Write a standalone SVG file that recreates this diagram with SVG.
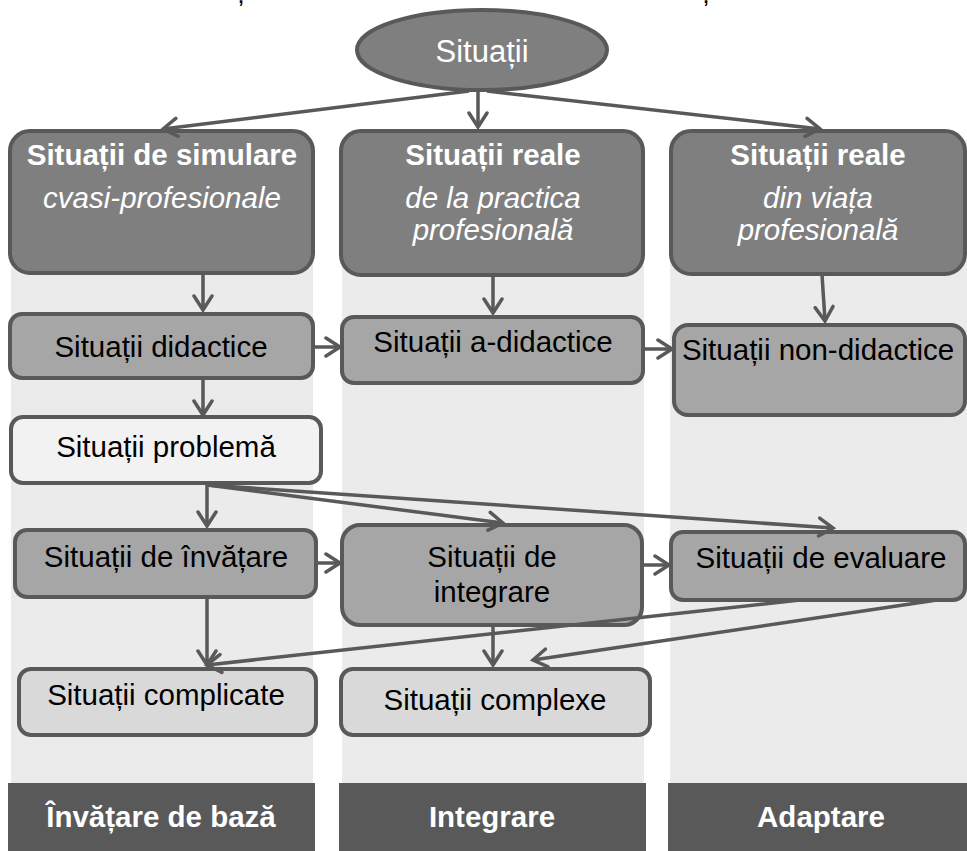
<svg xmlns="http://www.w3.org/2000/svg" width="967" height="851" viewBox="0 0 967 851">
  <defs>
    <style>
      .col { fill: #ebebeb; }
      .bar { fill: #595959; }
      .box { stroke: #595959; stroke-width: 4; }
      .dark { fill: #7f7f7f; }
      .mid { fill: #a6a6a6; }
      .light { fill: #d9d9d9; }
      .pale { fill: #f2f2f2; }
      text { font-family: "Liberation Sans", Arial, sans-serif; text-anchor: middle; }
      .t { font-size: 29.5px; fill: #000; }
      .w { font-size: 29.5px; fill: #fff; }
      .b { font-weight: bold; }
      .i { font-style: italic; }
      .mark { font-size: 18px; font-weight: bold; fill: #000; }
      .conn line { stroke: #595959; stroke-width: 3.5; fill: none; marker-end: url(#arrow); }
    </style>
    <marker id="arrow" markerUnits="userSpaceOnUse" markerWidth="20" markerHeight="24" viewBox="-16 -12 20 24" refX="0" refY="0" orient="auto">
      <path d="M-14,-9 L0,0 L-14,9" fill="none" stroke="#595959" stroke-width="3.5" stroke-linecap="round" stroke-linejoin="miter"/>
    </marker>
  </defs>

  <!-- small marks along the top edge -->
  <text class="mark" x="241" y="2.5">,</text>
  <text class="mark" x="706" y="2.5">,</text>

  <!-- column backgrounds -->
  <g id="columns">
    <rect class="col" x="11" y="140" width="302" height="643"/>
    <rect class="col" x="342" y="140" width="302" height="643"/>
    <rect class="col" x="670" y="140" width="297" height="643"/>
  </g>

  <!-- phase labels -->
  <g id="phase-basic">
    <rect class="bar" x="8" y="783" width="307" height="68"/>
    <text class="w b" x="161" y="827">Învățare de bază</text>
  </g>
  <g id="phase-integration">
    <rect class="bar" x="339" y="783" width="307" height="68"/>
    <text class="w b" x="492" y="827">Integrare</text>
  </g>
  <g id="phase-adaptation">
    <rect class="bar" x="668" y="783" width="299" height="68"/>
    <text class="w b" x="821" y="827">Adaptare</text>
  </g>

  <!-- root -->
  <g id="situatii">
    <ellipse class="box dark" cx="482" cy="50" rx="125" ry="40"/>
    <text class="w" x="482" y="62" style="font-size:31px">Situații</text>
  </g>

  <!-- top level -->
  <g id="simulare">
    <rect class="box dark" x="10" y="131" width="303" height="142" rx="20"/>
    <text class="w b" x="162" y="165">Situații de simulare</text>
    <text class="w i" x="162" y="208">cvasi-profesionale</text>
  </g>
  <g id="reale-practica">
    <rect class="box dark" x="341" y="131" width="302" height="144" rx="20"/>
    <text class="w b" x="493" y="165">Situații reale</text>
    <text class="w i" x="493" y="208">de la practica</text>
    <text class="w i" x="493" y="240">profesională</text>
  </g>
  <g id="reale-viata">
    <rect class="box dark" x="671" y="131" width="294" height="143" rx="20"/>
    <text class="w b" x="818" y="165">Situații reale</text>
    <text class="w i" x="818" y="208">din viața</text>
    <text class="w i" x="818" y="240">profesională</text>
  </g>

  <!-- second level -->
  <g id="didactice">
    <rect class="box mid" x="10" y="314" width="303" height="64" rx="12"/>
    <text class="t" x="161" y="357">Situații didactice</text>
  </g>
  <g id="a-didactice">
    <rect class="box mid" x="342" y="317" width="301" height="66" rx="12"/>
    <text class="t" x="493" y="352">Situații a-didactice</text>
  </g>
  <g id="non-didactice">
    <rect class="box mid" x="674" y="325" width="291" height="90" rx="14"/>
    <text class="t" x="818" y="360">Situații non-didactice</text>
  </g>

  <g id="problema">
    <rect class="box pale" x="11" y="417" width="310" height="66" rx="12"/>
    <text class="t" x="166" y="457">Situații problemă</text>
  </g>

  <g id="invatare">
    <rect class="box mid" x="15" y="530" width="301" height="67" rx="12"/>
    <text class="t" x="166" y="567">Situații de învățare</text>
  </g>
  <g id="integrare">
    <rect class="box mid" x="342" y="525" width="300" height="100" rx="18"/>
    <text class="t" x="492" y="567">Situații de</text>
    <text class="t" x="492" y="602">integrare</text>
  </g>
  <g id="evaluare">
    <rect class="box mid" x="671" y="532" width="294" height="68" rx="12"/>
    <text class="t" x="821" y="568">Situații de evaluare</text>
  </g>

  <g id="complicate">
    <rect class="box light" x="19" y="669" width="297" height="66" rx="12"/>
    <text class="t" x="166" y="705">Situații complicate</text>
  </g>
  <g id="complexe">
    <rect class="box light" x="341" y="669" width="309" height="66" rx="12"/>
    <text class="t" x="495" y="710">Situații complexe</text>
  </g>

  <!-- connectors -->
  <g id="connectors" class="conn">
    <line x1="469" y1="91" x2="163" y2="129"/>
    <line x1="478" y1="91" x2="478" y2="127"/>
    <line x1="487" y1="91" x2="820" y2="129"/>
    <line x1="203" y1="273" x2="203" y2="310"/>
    <line x1="493" y1="275" x2="493" y2="313"/>
    <line x1="822" y1="274" x2="825" y2="321"/>
    <line x1="313" y1="347" x2="340" y2="347"/>
    <line x1="643" y1="349" x2="672" y2="349"/>
    <line x1="203" y1="378" x2="203" y2="415"/>
    <line x1="207" y1="483" x2="207" y2="526"/>
    <line x1="207" y1="485" x2="503" y2="523"/>
    <line x1="207" y1="485" x2="833" y2="528"/>
    <line x1="316" y1="563" x2="340" y2="563"/>
    <line x1="642" y1="565" x2="669" y2="565"/>
    <line x1="207" y1="597" x2="207" y2="665"/>
    <line x1="800" y1="600" x2="207" y2="665"/>
    <line x1="937" y1="600" x2="533" y2="660"/>
    <line x1="493" y1="625" x2="493" y2="665"/>
  </g>
</svg>
